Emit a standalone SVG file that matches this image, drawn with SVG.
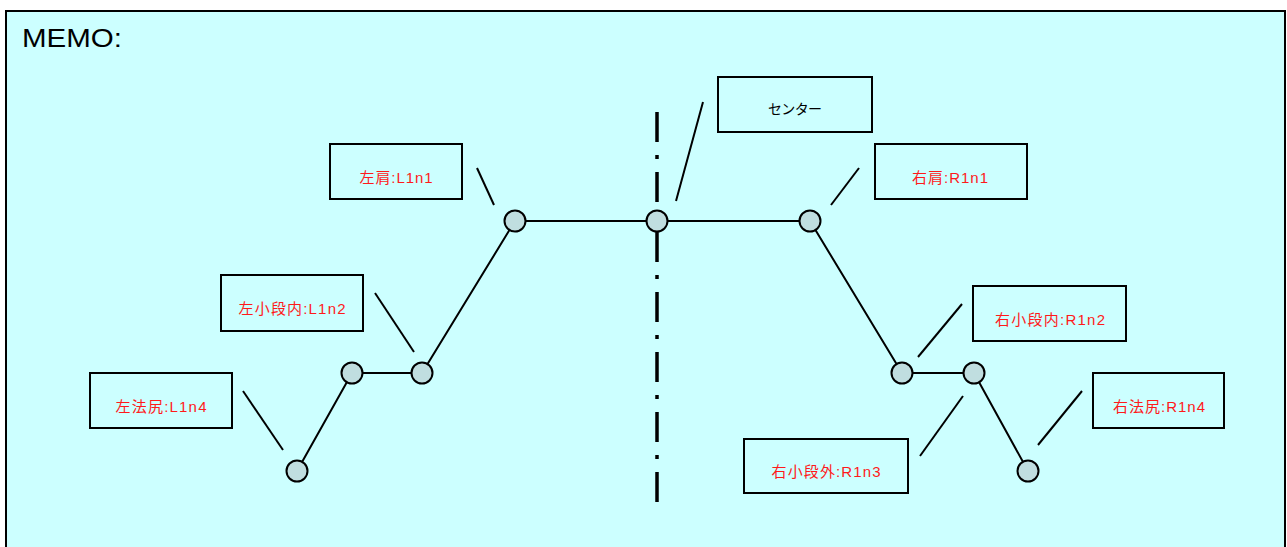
<svg xmlns="http://www.w3.org/2000/svg" width="1287" height="547" viewBox="0 0 1287 547">
<style>
.bg{fill:#CCFFFF;stroke:#000;stroke-width:2}
.box{fill:none;stroke:#000;stroke-width:2}
.lbl{font-family:"Liberation Sans","Noto Sans CJK JP",sans-serif;font-size:15px;fill:#FF1A1A;text-anchor:middle}
.lblk{fill:#000;font-size:14px}
.edge{stroke:#000;stroke-width:2;fill:none}
.lead{stroke:#000;stroke-width:2;fill:none}
.pt{fill:#C0DEE0;stroke:#000;stroke-width:2}
</style>
<rect class="bg" x="6" y="11" width="1279" height="560"/>
<text x="22" y="47" font-family="Liberation Sans, sans-serif" font-size="26" textLength="100" lengthAdjust="spacingAndGlyphs" fill="#000">MEMO:</text>
<line x1="657" y1="112" x2="657" y2="502" stroke="#000" stroke-width="3.5" stroke-dasharray="30 13 4 13"/>
<g id="connectors">
<polyline class="edge" points="297,471 352,373 422,373 515,221 657,221 810,221 902,373 974,373 1028,471"/>
<line class="lead" x1="477" y1="168" x2="494" y2="205"/>
<line class="lead" x1="703" y1="102" x2="676" y2="201"/>
<line class="lead" x1="859" y1="168" x2="831" y2="205"/>
<line class="lead" x1="375" y1="293" x2="414" y2="352"/>
<line class="lead" x1="243" y1="391" x2="283" y2="450"/>
<line class="lead" x1="962" y1="304" x2="918" y2="357"/>
<line class="lead" x1="963" y1="396" x2="920" y2="456"/>
<line class="lead" x1="1082" y1="391" x2="1038" y2="445"/>
</g>
<g id="nodes">
<circle class="pt" cx="297" cy="471" r="10.5"/>
<circle class="pt" cx="352" cy="373" r="10.5"/>
<circle class="pt" cx="422" cy="373" r="10.5"/>
<circle class="pt" cx="515" cy="221" r="10.5"/>
<circle class="pt" cx="657" cy="221" r="10.5"/>
<circle class="pt" cx="810" cy="221" r="10.5"/>
<circle class="pt" cx="902" cy="373" r="10.5"/>
<circle class="pt" cx="974" cy="373" r="10.5"/>
<circle class="pt" cx="1028" cy="471" r="10.5"/>
</g>
<g id="label-L1n1"><rect class="box" x="330" y="144" width="132" height="55"/><text class="lbl" x="396" y="183" textLength="73" lengthAdjust="spacing">左肩:L1n1</text></g>
<g id="label-center"><rect class="box" x="718" y="77" width="154" height="55"/><text class="lbl lblk" x="795" y="114" textLength="54" lengthAdjust="spacing">センター</text></g>
<g id="label-R1n1"><rect class="box" x="875" y="144" width="152" height="55"/><text class="lbl" x="950" y="183" textLength="76" lengthAdjust="spacing">右肩:R1n1</text></g>
<g id="label-L1n2"><rect class="box" x="221" y="275" width="142" height="56"/><text class="lbl" x="292" y="314" textLength="107" lengthAdjust="spacing">左小段内:L1n2</text></g>
<g id="label-L1n4"><rect class="box" x="90" y="373" width="142" height="55"/><text class="lbl" x="161" y="412" textLength="91" lengthAdjust="spacing">左法尻:L1n4</text></g>
<g id="label-R1n2"><rect class="box" x="973" y="286" width="153" height="55"/><text class="lbl" x="1050" y="325" textLength="110" lengthAdjust="spacing">右小段内:R1n2</text></g>
<g id="label-R1n3"><rect class="box" x="744" y="439" width="164" height="54"/><text class="lbl" x="826" y="477" textLength="109" lengthAdjust="spacing">右小段外:R1n3</text></g>
<g id="label-R1n4"><rect class="box" x="1093" y="373" width="131" height="55"/><text class="lbl" x="1159" y="412" textLength="92" lengthAdjust="spacing">右法尻:R1n4</text></g>
</svg>
